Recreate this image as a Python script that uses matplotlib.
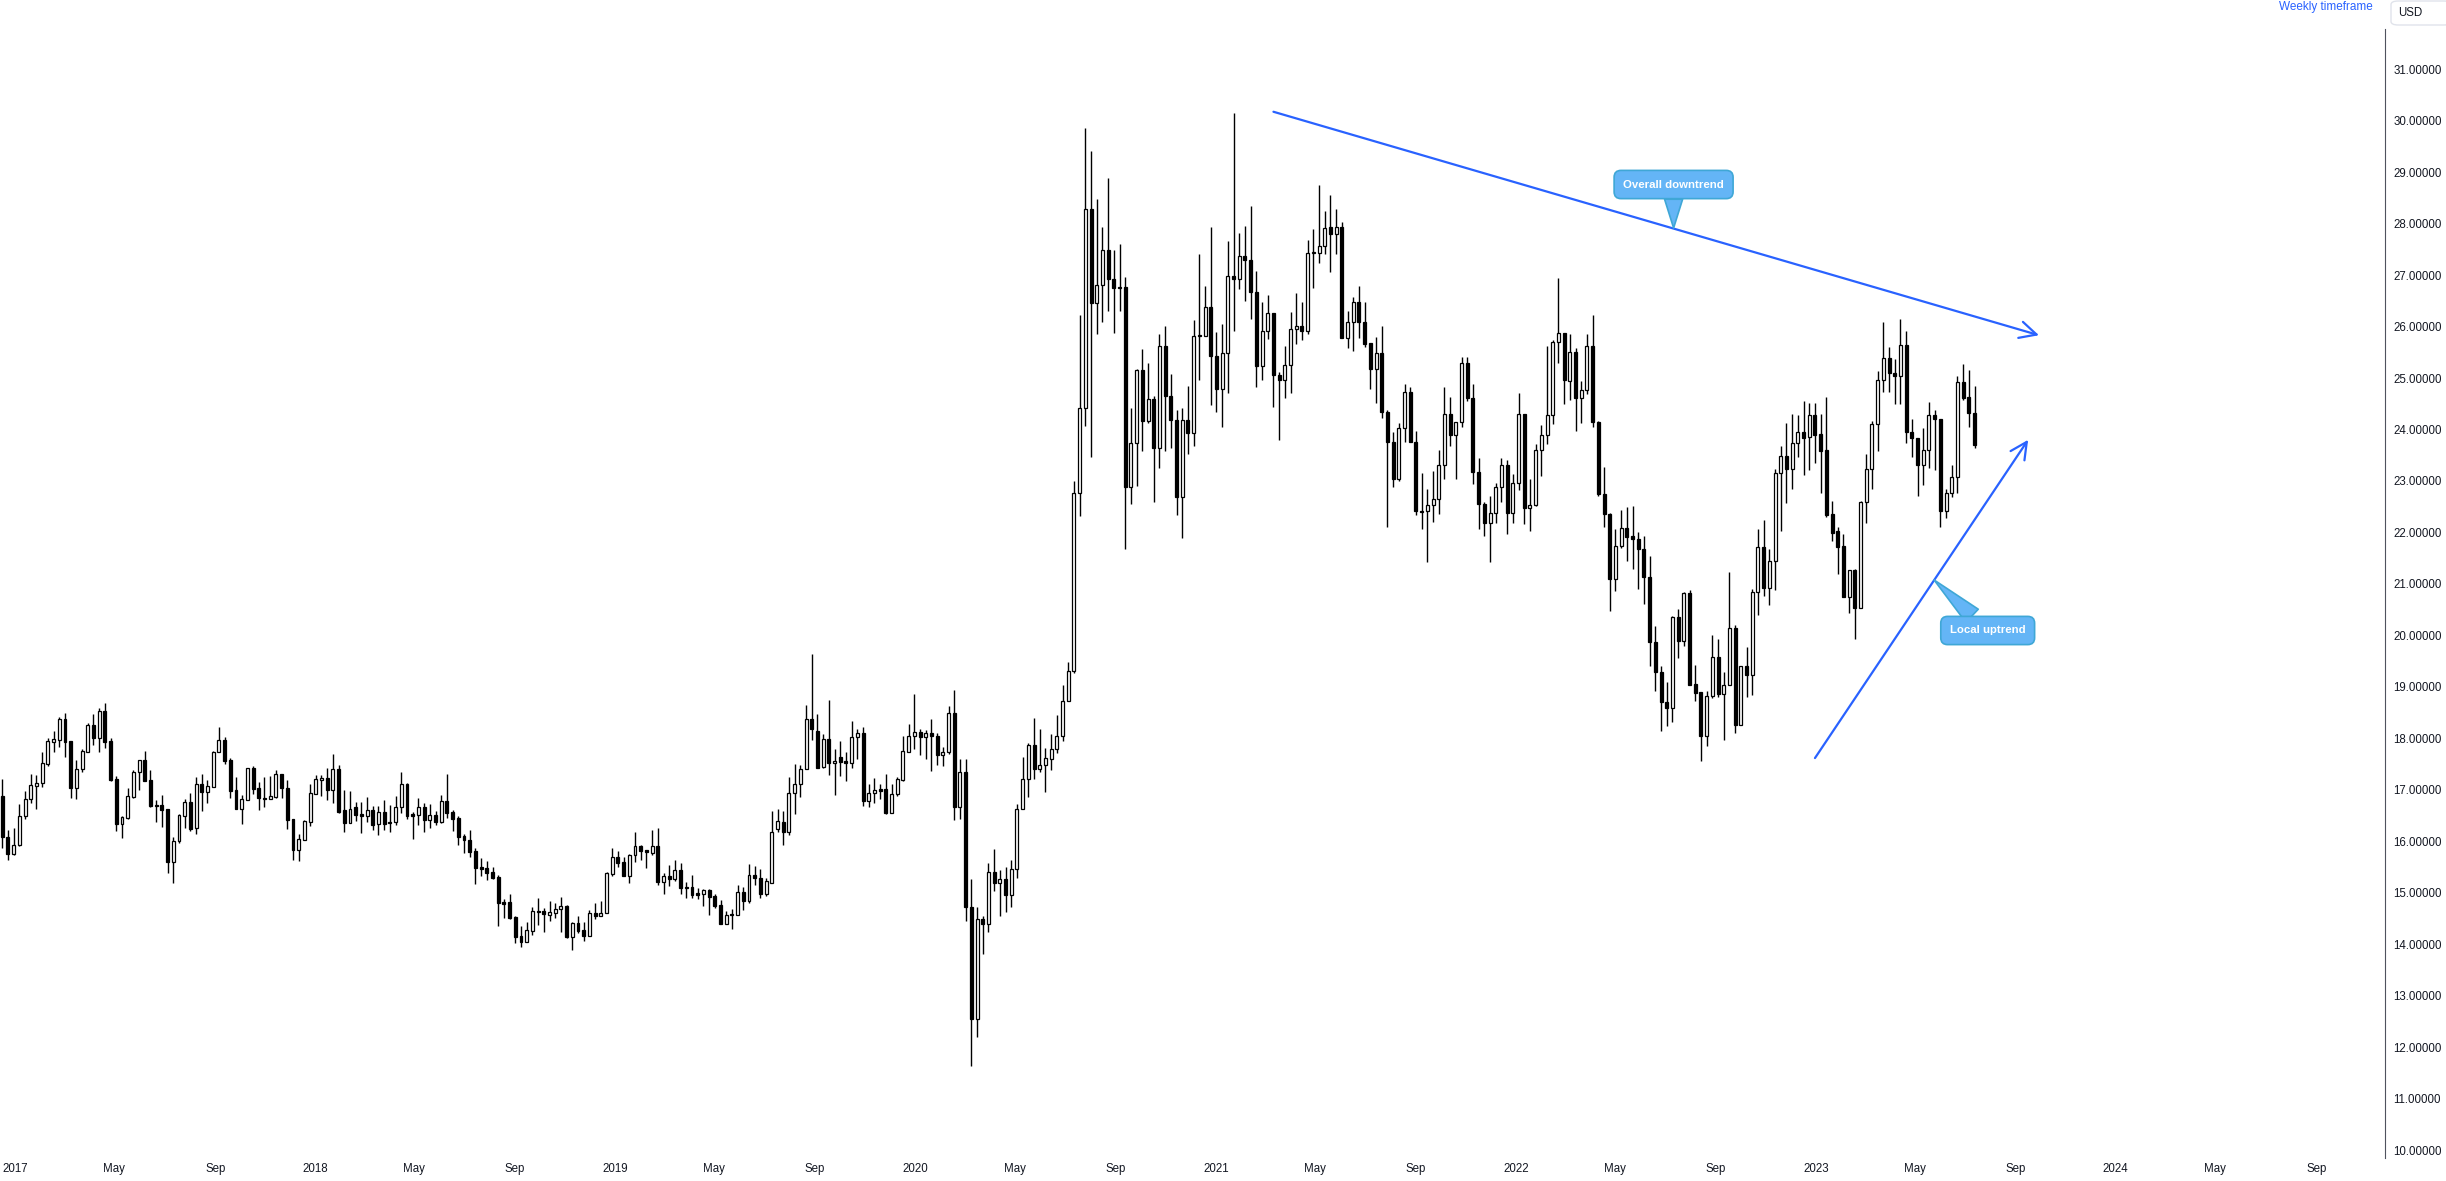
import numpy as np
import pandas as pd
import matplotlib
matplotlib.use('Agg')
import matplotlib.pyplot as plt
from matplotlib.patches import FancyBboxPatch

plt.rcParams['font.family'] = ['Liberation Sans', 'DejaVu Sans']

start_week = '2016-12-12'

opens = [16.88,16.08,15.75,15.93,16.49,16.82,17.08,17.13,17.50,17.94,
17.98,18.38,17.95,17.03,17.40,17.74,18.26,18.00,18.53,17.95,
17.21,16.33,16.46,16.86,17.34,17.58,17.19,16.71,16.71,16.63,
15.61,16.00,16.50,16.76,16.26,17.11,16.97,17.06,17.73,17.97,
17.58,17.00,16.64,16.81,17.43,17.03,16.85,16.82,16.86,17.31,
17.04,16.44,15.83,16.03,16.38,16.93,17.19,17.23,17.00,17.41,
16.61,16.35,16.66,16.53,16.50,16.61,16.33,16.58,16.38,16.37,
16.66,17.12,16.53,16.52,16.66,16.42,16.51,16.38,16.78,16.57,
16.45,16.11,16.03,15.81,15.50,15.49,15.40,15.32,14.82,14.82,
14.54,14.16,14.05,14.27,14.65,14.65,14.58,14.62,14.68,14.75,
14.15,14.41,14.28,14.17,14.62,14.56,14.62,15.37,15.69,15.60,
15.33,15.73,15.91,15.83,15.78,15.92,15.22,15.33,15.27,15.45,
15.11,15.11,15.00,14.99,15.06,14.94,14.76,14.39,14.59,14.58,
15.01,14.85,15.35,15.30,14.99,15.20,16.24,16.38,16.19,16.95,
17.11,17.40,18.37,18.15,17.44,17.99,17.52,17.64,17.56,17.53,
18.02,18.10,16.79,16.94,17.02,17.02,16.55,16.93,17.19,17.74,
18.04,18.12,18.02,18.10,18.05,17.68,17.73,18.49,16.66,17.35,
14.72,12.55,14.49,14.39,15.40,15.19,15.27,14.97,15.46,16.64,
17.21,17.87,17.41,17.48,17.61,17.79,18.04,18.72,19.32,22.77,
24.41,28.29,26.45,26.80,27.49,26.92,26.76,26.76,22.88,23.73,
25.15,24.16,24.60,23.65,25.62,24.66,24.18,22.69,24.18,23.93,
25.83,25.82,26.38,25.43,24.78,25.49,26.99,26.92,27.36,27.29,
26.67,25.23,25.92,26.27,25.06,24.97,25.26,25.96,26.01,25.92,
27.43,27.43,27.56,27.93,27.79,27.93,25.77,26.08,26.47,26.08,
25.67,25.17,25.48,24.34,23.75,23.04,24.02,24.72,23.75,22.42,
22.42,22.53,22.66,23.31,24.31,23.89,24.15,25.30,24.62,23.17,
22.55,22.18,22.37,22.88,23.31,22.37,22.96,24.30,22.47,22.53,
23.60,23.89,24.28,25.69,25.87,24.95,25.51,24.62,24.76,25.63,
24.15,22.75,22.36,21.10,21.74,22.09,21.93,21.88,21.67,21.13,
19.87,19.30,18.70,18.60,20.35,19.90,20.82,19.05,18.90,18.05,
18.83,19.58,18.87,19.04,20.14,18.27,19.40,19.24,20.84,21.71,
20.92,21.45,23.15,23.48,23.23,23.74,23.96,23.85,24.28,23.91,
23.60,22.36,22.02,21.74,20.75,21.27,20.53,22.59,23.23,24.11,
24.96,25.38,25.09,25.04,25.65,23.96,23.83,23.31,23.61,24.28,
24.20,22.42,22.76,23.08,24.93,24.64,24.33]

highs = [17.21,16.22,16.27,16.73,16.99,17.32,17.29,17.74,18.00,18.14,
18.41,18.49,17.95,17.58,17.80,18.30,18.47,18.60,18.68,18.00,
17.27,16.49,17.04,17.39,17.58,17.76,17.39,16.81,16.90,16.64,
16.08,16.53,16.82,16.95,17.25,17.32,17.19,17.76,18.22,18.03,
17.63,17.26,16.90,17.42,17.47,17.15,17.26,17.27,17.39,17.31,
17.19,16.44,16.14,16.42,17.12,17.29,17.29,17.43,17.70,17.48,
17.00,16.98,16.77,16.77,16.87,16.68,16.68,16.81,16.70,16.88,
17.35,17.14,16.58,16.84,16.75,16.73,16.59,16.90,17.31,16.62,
16.49,16.14,16.22,15.87,15.68,15.63,15.51,15.35,14.88,14.99,
14.55,14.36,14.44,14.73,14.90,14.70,14.84,14.80,14.92,14.77,
14.43,14.56,14.44,14.67,14.80,14.84,15.40,15.87,15.81,15.70,
15.76,16.18,15.93,15.83,16.22,16.26,15.38,15.54,15.64,15.58,
15.21,15.35,15.09,15.07,15.07,14.98,14.86,14.65,14.68,15.16,
15.11,15.56,15.52,15.46,15.30,16.59,16.64,16.60,17.25,17.51,
17.49,18.65,19.65,18.48,18.09,18.75,17.80,17.95,17.74,18.34,
18.18,18.22,17.11,17.23,17.12,17.32,17.12,17.26,18.05,18.28,
18.86,18.18,18.16,18.38,18.10,17.83,18.63,18.94,17.60,17.60,
15.27,14.73,14.55,15.58,15.85,15.45,15.51,15.64,16.73,17.65,
17.92,18.40,18.18,17.81,18.09,18.46,19.04,19.48,23.00,26.22,
29.86,29.40,28.48,27.94,28.89,27.49,27.61,26.96,24.41,25.17,
25.57,25.29,24.66,25.85,26.01,25.08,24.38,24.41,24.85,26.13,
27.41,26.78,27.94,25.89,26.05,27.66,30.15,27.82,27.96,28.34,
27.07,26.47,26.62,26.27,25.11,25.62,26.29,26.66,26.48,27.68,
27.89,28.75,28.24,28.55,28.28,28.02,26.31,26.58,26.79,26.48,
25.67,25.79,26.01,24.38,23.96,24.13,24.88,24.82,23.97,23.15,
22.85,23.19,23.60,24.83,24.64,24.15,25.40,25.41,24.88,23.44,
22.59,22.70,22.96,23.44,23.41,23.13,24.70,24.31,23.04,23.71,
24.09,25.62,25.74,26.94,25.87,25.85,25.58,24.94,25.86,26.22,
24.17,23.28,22.38,22.07,22.44,22.49,22.51,22.00,21.93,21.54,
20.19,19.40,19.09,20.38,20.52,20.84,20.89,19.43,18.90,18.93,
20.00,19.94,19.29,21.23,20.21,19.40,19.77,20.91,22.07,22.24,
21.68,23.23,23.67,24.13,24.30,24.28,24.56,24.51,24.51,24.30,
24.64,22.61,22.10,21.98,21.27,21.30,22.62,23.52,24.17,25.14,
26.09,25.60,25.37,26.14,25.91,24.20,23.83,24.03,24.53,24.37,
24.20,22.84,23.31,25.03,25.27,25.15,24.84]

lows = [15.88,15.65,15.73,15.91,16.43,16.75,16.64,17.06,17.47,17.74,
17.84,17.65,16.85,16.83,17.34,17.74,17.87,17.74,17.82,17.18,
16.21,16.07,16.44,16.85,17.00,17.18,16.66,16.37,16.29,15.38,
15.20,15.98,16.27,16.21,16.14,16.60,16.74,17.05,17.73,17.50,
16.85,16.64,16.34,16.81,16.92,16.61,16.66,16.82,16.85,16.85,
16.24,15.64,15.62,16.02,16.30,16.93,16.89,16.81,16.75,16.56,
16.18,16.35,16.40,16.17,16.37,16.22,16.13,16.22,16.18,16.32,
16.55,16.44,16.05,16.32,16.18,16.27,16.32,16.35,16.45,16.20,
15.93,15.78,15.69,15.17,15.33,15.25,15.28,14.35,14.51,14.49,
14.02,13.96,14.05,14.19,14.38,14.25,14.46,14.52,14.25,14.12,
13.89,14.22,14.07,14.17,14.49,14.56,14.62,15.33,15.51,15.33,
15.20,15.61,15.65,15.49,15.74,15.15,14.98,15.14,15.23,14.98,
14.91,14.91,14.88,14.75,14.57,14.71,14.39,14.39,14.30,14.58,
14.66,14.80,15.16,14.91,14.95,15.19,16.19,15.93,16.13,16.53,
16.87,17.40,17.97,17.42,17.42,17.29,16.90,17.27,17.18,17.43,
17.60,16.69,16.66,16.75,16.83,16.53,16.55,16.89,17.17,17.74,
17.80,17.68,17.60,17.36,17.49,17.47,17.70,16.41,16.44,14.46,
11.65,12.20,13.82,14.25,15.03,14.56,14.64,14.72,15.30,16.64,
16.87,17.21,17.34,16.97,17.38,17.71,17.96,18.72,19.27,22.32,
24.06,23.46,25.85,26.08,26.31,25.87,26.31,21.67,22.55,22.90,
23.59,24.13,22.60,23.25,23.59,23.64,22.34,21.90,23.53,23.67,
24.97,25.82,24.48,24.34,24.04,24.71,25.92,26.73,26.50,26.15,
24.83,24.97,25.76,24.43,23.79,24.62,24.71,25.66,25.73,25.85,
26.75,27.24,27.41,27.05,27.41,25.77,25.58,25.53,25.77,25.61,
24.78,24.51,24.22,22.11,22.89,23.00,23.76,23.75,22.34,22.06,
21.43,22.21,22.35,23.03,23.67,23.03,24.04,24.55,22.94,22.06,
21.94,21.43,22.19,22.60,21.97,22.19,22.83,22.16,22.02,22.52,
23.09,23.71,24.11,25.30,24.49,24.57,23.98,24.13,24.69,24.04,
22.70,22.10,20.47,20.86,21.69,21.45,21.29,20.91,20.62,19.40,
18.93,18.15,18.25,18.32,19.56,19.80,19.04,18.73,17.57,17.86,
18.78,18.81,17.98,19.04,18.10,18.27,18.80,18.85,20.40,20.77,
20.60,20.88,22.03,22.57,22.85,23.47,23.12,23.21,23.34,22.77,
22.31,21.84,21.19,20.75,20.43,19.93,20.53,22.18,22.84,23.59,
24.73,24.73,24.50,24.50,23.74,23.46,22.70,22.92,23.25,23.21,
22.11,22.28,22.68,22.76,24.57,24.05,23.65]

closes = [16.08,15.75,15.94,16.49,16.82,17.10,17.14,17.52,17.95,17.99,
18.38,17.94,17.03,17.41,17.76,18.26,18.00,18.53,17.94,17.19,
16.33,16.47,16.88,17.35,17.58,17.18,16.68,16.68,16.62,15.61,
16.01,16.51,16.76,16.24,17.11,16.97,17.07,17.74,17.97,17.57,
16.99,16.64,16.82,17.42,17.02,16.85,16.83,16.88,17.31,17.03,
16.42,15.83,16.05,16.40,16.94,17.21,17.23,17.00,17.41,16.58,
16.35,16.64,16.51,16.50,16.61,16.32,16.58,16.34,16.35,16.66,
17.12,16.49,16.50,16.66,16.42,16.51,16.38,16.78,16.56,16.44,
16.09,16.02,15.80,15.49,15.47,15.39,15.30,14.80,14.79,14.52,
14.15,14.05,14.28,14.65,14.63,14.59,14.63,14.69,14.75,14.15,
14.41,14.27,14.17,14.62,14.56,14.62,15.38,15.69,15.59,15.33,
15.74,15.91,15.82,15.79,15.92,15.22,15.33,15.27,15.45,15.10,
15.10,14.97,14.97,15.06,14.93,14.75,14.39,14.57,14.57,15.01,
14.85,15.35,15.30,14.99,15.23,16.19,16.39,16.19,16.95,17.11,
17.40,18.37,18.18,17.42,17.99,17.53,17.56,17.55,17.53,18.03,
18.10,16.79,16.95,17.00,16.99,16.55,16.93,17.21,17.75,18.05,
18.12,18.02,18.10,18.04,17.68,17.73,18.49,16.66,17.35,14.72,
12.55,14.49,14.39,15.40,15.19,15.27,14.97,15.46,16.64,17.21,
17.87,17.41,17.48,17.62,17.79,18.04,18.72,19.32,22.77,24.41,
28.29,26.45,26.80,27.49,26.92,26.75,26.74,22.88,23.73,25.15,
24.16,24.60,23.65,25.62,24.66,24.18,22.69,24.18,23.93,25.82,
25.81,26.38,25.43,24.78,25.49,26.99,26.92,27.36,27.29,26.67,
25.23,25.92,26.27,25.06,24.97,25.26,25.96,26.01,25.92,27.43,
27.45,27.56,27.92,27.79,27.93,25.77,26.08,26.47,26.08,25.66,
25.17,25.48,24.34,23.75,23.04,24.02,24.72,23.75,22.41,22.39,
22.53,22.66,23.31,24.31,23.89,24.15,25.30,24.62,23.17,22.55,
22.18,22.37,22.88,23.31,22.37,22.96,24.30,22.47,22.53,23.60,
23.89,24.28,25.69,25.87,24.96,25.51,24.62,24.76,25.63,24.15,
22.75,22.36,21.10,21.74,22.09,21.92,21.88,21.67,21.13,19.87,
19.30,18.70,18.60,20.35,19.90,20.82,19.04,18.89,18.05,18.83,
19.58,18.87,19.04,20.14,18.27,19.40,19.24,20.84,21.71,20.92,
21.45,23.15,23.48,23.23,23.74,23.96,23.84,24.28,23.90,23.59,
22.34,21.99,21.72,20.75,21.27,20.53,22.59,23.23,24.11,24.96,
25.38,25.09,25.04,25.65,23.96,23.83,23.31,23.61,24.28,24.20,
22.42,22.76,23.08,24.93,24.62,24.33,23.70]

# trend drawings (bar index, price)
downtrend_x = [223.0, 357.3]
downtrend_y = [30.17, 25.83]
uptrend_x = [318.0, 355.4]
uptrend_y = [17.62, 23.80]

price_ticks = list(range(10, 32))
month_ticks = [(1, None), (5, 'May'), (9, 'Sep')]
tick_years = list(range(2017, 2025))

n = len(opens)
o = np.array(opens); h = np.array(highs); l = np.array(lows); c = np.array(closes)
x = np.arange(n)

W, H = 2446, 1181
fig = plt.figure(figsize=(W / 100, H / 100), dpi=100)
ax = fig.add_axes([0, 23 / H, 2385 / W, 1158 / H])
ax.set_xlim(-0.4, 418.0)
ax.set_ylim(9.854, 32.34)

# wicks and bodies
ax.vlines(x, l, h, color='black', lw=1.0, zorder=2)
up = c >= o
bottoms = np.minimum(o, c)
heights = np.maximum(np.abs(c - o), 0.012)
ax.bar(x[up], heights[up], bottom=bottoms[up], width=0.52, color='white',
       edgecolor='black', linewidth=0.9, zorder=3)
ax.bar(x[~up], heights[~up], bottom=bottoms[~up], width=0.52, color='black',
       edgecolor='black', linewidth=0.9, zorder=3)

blue = '#2962FF'
for xs, ys in [(downtrend_x, downtrend_y), (uptrend_x, uptrend_y)]:
    ax.annotate('', xy=(xs[1], ys[1]), xytext=(xs[0], ys[0]),
                arrowprops=dict(arrowstyle='->,head_length=0.6,head_width=0.3',
                                color=blue, lw=1.6, shrinkA=0, shrinkB=0,
                                mutation_scale=20), zorder=4)

def callout(text, center, tip):
    ax.annotate(text, xy=tip, xytext=center, ha='center', va='center',
                color='white', fontsize=8.2, fontweight='bold',
                bbox=dict(boxstyle='round,pad=0.8,rounding_size=0.6',
                          fc='#64b5f6', ec='#3fa7d6', lw=1.2),
                arrowprops=dict(arrowstyle='wedge,tail_width=1.3',
                                fc='#64b5f6', ec='#3fa7d6', lw=1.2,
                                shrinkA=0, shrinkB=0, mutation_scale=10),
                zorder=5)

callout('Overall downtrend', (293.2, 28.757), (293.2, 27.913))
callout('Local uptrend', (348.3, 20.097), (338.9, 21.078))

# axes styling
for s in ['top', 'left', 'bottom']:
    ax.spines[s].set_visible(False)
ax.spines['right'].set_bounds(9.854, 31.78)
ax.spines['right'].set_color('#50535e')
ax.spines['right'].set_linewidth(0.8)

ax.yaxis.tick_right()
ax.set_yticks(price_ticks)
ax.set_yticklabels([f'{v:.5f}' for v in price_ticks])
ax.tick_params(axis='y', length=0, pad=6, labelsize=8.3, labelcolor='#131722')

# time-axis labels: placed on a linear calendar scale (about 300 px per year),
# the way the source time scale lays them out
dates = pd.date_range(start_week, periods=n, freq='7D')
bar_px = 5.70          # pixel spacing of one weekly bar
year_px = 300.1        # pixel length of one calendar year on the label scale
origin = pd.Timestamp('2017-01-01')
origin_idx = (15.6 - 2.3) / bar_px
tpos, tlab = [], []
for yr in tick_years:
    for m, lab in month_ticks:
        t = pd.Timestamp(yr, m, 1)
        yrs = (t - origin).days / 365.25
        tpos.append(origin_idx + yrs * year_px / bar_px)
        tlab.append(str(yr) if lab is None else lab)
ax.set_xticks(tpos)
ax.set_xticklabels(tlab)
ax.tick_params(axis='x', length=0, pad=3.5, labelsize=8.3, labelcolor='#131722')

fig.text(2373 / W, 1 - 7 / H, 'Weekly timeframe', ha='right', va='center',
         color=blue, fontsize=8.5)
box = FancyBboxPatch((2391 / W, 1 - 25 / H), 60 / W, 24 / H,
                     boxstyle='round,pad=0,rounding_size=0.003',
                     transform=fig.transFigure, fc='white', ec='#e0e3eb', lw=1.0)
fig.patches.append(box)
fig.text(2398 / W, 1 - 13 / H, 'USD', ha='left', va='center', color='#131722',
         fontsize=8.3)

fig.savefig('out.png', dpi=100, facecolor='white')
